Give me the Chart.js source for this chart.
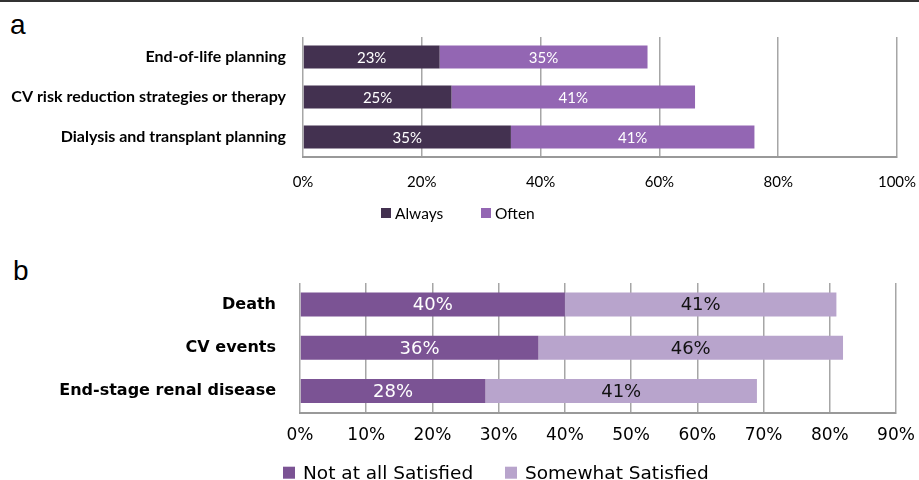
<!DOCTYPE html>
<html>
<head>
<meta charset="utf-8">
<script src="https://cdn.jsdelivr.net/npm/chart.js@4"></script>
<style>
  html, body { margin: 0; padding: 0; background: #fff; }
  body { width: 919px; height: 480px; position: relative; overflow: hidden; }
  .topline { position: absolute; left: 0; top: 0; width: 919px; height: 2px; background: #333; }
  .panel { position: absolute; font-family: "Liberation Sans", Arial, sans-serif; font-size: 28px; color: #000; }
  #boxA { position: absolute; left: 0; top: 0; width: 919px; height: 240px; }
  #boxB { position: absolute; left: 0; top: 240px; width: 919px; height: 240px; }
</style>
</head>
<body>
<div class="topline"></div>
<div class="panel" style="left:10px; top:9px;">a</div>
<div class="panel" style="left:13px; top:255px;">b</div>
<div id="boxA"><canvas id="chartA"></canvas></div>
<div id="boxB"><canvas id="chartB"></canvas></div>
<script>
// panel a
const topicsA = ['End-of-life planning', 'CV risk reduction strategies or therapy', 'Dialysis and transplant planning'];
const always = [23, 25, 35];
const often = [35, 41, 41];

// panel b
const outcomesB = ['Death', 'CV events', 'End-stage renal disease'];
const notSatisfied = [40, 36, 28];
const somewhatSatisfied = [41, 46, 41];

// draw the % inside each bar segment
const barLabels = {
    id: 'barLabels',
    afterDatasetsDraw(chart, args, opts) {
        const ctx = chart.ctx;
        ctx.save();
        ctx.font = opts.font;
        ctx.textAlign = 'center';
        ctx.textBaseline = 'middle';
        chart.data.datasets.forEach(function(ds, i) {
            chart.getDatasetMeta(i).data.forEach(function(bar, j) {
                const p = bar.getProps(['x', 'y', 'base'], true);
                ctx.fillStyle = opts.colors[i];
                ctx.fillText(ds.data[j] + '%', (p.x + p.base) / 2, p.y + 1);
            });
        });
        ctx.restore();
    }
};

// small square legend under the axis, one item per dataset
const boxLegend = {
    id: 'boxLegend',
    afterDraw(chart, args, o) {
        const ctx = chart.ctx;
        ctx.save();
        ctx.font = o.font;
        ctx.textBaseline = 'middle';
        chart.data.datasets.forEach(function(ds, i) {
            const x = o.xs[i];
            ctx.fillStyle = ds.backgroundColor;
            ctx.fillRect(x, o.y - o.box / 2, o.box, o.box);
            ctx.fillStyle = '#000';
            ctx.fillText(ds.label, x + o.box + o.textGap, o.y + 1);
        });
        ctx.restore();
    }
};

function makeChart(id, cfg) {
    return new Chart(document.getElementById(id).getContext('2d'), {
        type: 'bar',
        data: { labels: cfg.labels, datasets: cfg.datasets },
        options: {
            indexAxis: 'y',
            responsive: true,
            maintainAspectRatio: false,
            animation: false,
            layout: { padding: cfg.padding },
            scales: {
                x: {
                    stacked: true,
                    min: 0,
                    max: cfg.max,
                    grid: { color: '#a6a6a6', lineWidth: 1.5, drawTicks: false },
                    border: { display: true, color: '#999999', width: 2 },
                    ticks: {
                        stepSize: cfg.step,
                        padding: cfg.tickPad,
                        color: '#000',
                        font: cfg.tickFont,
                        maxRotation: 0,
                        autoSkip: false,
                        callback: function(value) { return value + '%'; }
                    },
                    afterFit: function(axis) {
                        axis.height = cfg.xHeight;
                        axis.paddingLeft = 0;
                        axis.paddingRight = 0;
                    }
                },
                y: {
                    stacked: true,
                    grid: { display: false, drawTicks: false },
                    border: { display: false },
                    ticks: { color: '#000', font: cfg.catFont, padding: cfg.catPad },
                    afterFit: function(axis) {
                        axis.width = cfg.yWidth;
                        axis.paddingTop = 0;
                        axis.paddingBottom = 0;
                    }
                }
            },
            plugins: {
                legend: { display: false },
                tooltip: { enabled: false },
                barLabels: { font: cfg.valueFont, colors: cfg.valueColors },
                boxLegend: cfg.legend
            }
        },
        plugins: [barLabels, boxLegend]
    });
}

makeChart('chartA', {
    labels: topicsA,
    datasets: [
        { label: 'Always', data: always, backgroundColor: '#433150', barPercentage: 0.575, categoryPercentage: 1 },
        { label: 'Often', data: often, backgroundColor: '#9366b3', barPercentage: 0.575, categoryPercentage: 1 }
    ],
    max: 100, step: 20,
    padding: { top: 37, left: 0, right: 22, bottom: 0 },
    yWidth: 303, xHeight: 83, tickPad: 16, catPad: 17,
    tickFont: { family: 'Lato', size: 15 },
    catFont: { family: 'Lato', size: 16, weight: 'bold' },
    valueFont: '15px Lato',
    valueColors: ['#ffffff', '#ffffff'],
    legend: { xs: [381, 481], y: 213, box: 10, textGap: 4, font: '15.5px Lato' }
});

makeChart('chartB', {
    labels: outcomesB,
    datasets: [
        { label: 'Not at all Satisfied', data: notSatisfied, backgroundColor: '#7b5394', barPercentage: 0.555, categoryPercentage: 1 },
        { label: 'Somewhat Satisfied', data: somewhatSatisfied, backgroundColor: '#b8a4cc', barPercentage: 0.555, categoryPercentage: 1 }
    ],
    max: 90, step: 10,
    padding: { top: 43, left: 0, right: 23, bottom: 0 },
    yWidth: 300, xHeight: 67.3, tickPad: 13, catPad: 24,
    tickFont: { family: 'DejaVu Sans', size: 17 },
    catFont: { family: 'DejaVu Sans', size: 16, weight: 'bold' },
    valueFont: '18px "DejaVu Sans"',
    valueColors: ['#ffffff', '#111111'],
    legend: { xs: [283, 505], y: 232.7, box: 12, textGap: 8, font: '18.5px "DejaVu Sans"' }
});
</script>
</body>
</html>
